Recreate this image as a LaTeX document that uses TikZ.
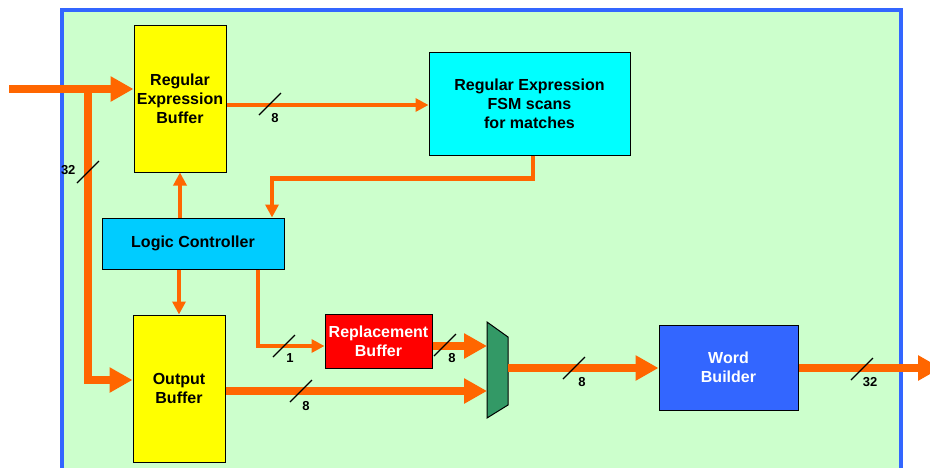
\documentclass[tikz,border=0pt]{standalone}
\usepackage{fontspec}
\setmainfont{Liberation Sans}
\usetikzlibrary{arrows.meta}

\begin{document}
\begin{tikzpicture}[x=1pt,y=-1pt,
  font=\bfseries\fontsize{16}{19}\selectfont,
  block/.style={draw=black,line width=1pt,inner sep=0pt,align=center},
  wide/.style={cWire,line width=8pt,line join=miter,-{Triangle[length=23pt,width=24pt]}},
  narrow/.style={cWire,line width=4.5pt,line join=miter,-{Triangle[length=13pt,width=13pt]}},
  busmark/.style={black,line width=1.2pt},
  buslabel/.style={font=\bfseries\fontsize{13}{15}\selectfont}]
  \definecolor{cWire}{RGB}{255,102,0}
  \definecolor{cBack}{RGB}{204,255,204}
  \definecolor{cFrame}{RGB}{51,102,255}
  \definecolor{cYell}{RGB}{255,255,0}
  \definecolor{cCyan}{RGB}{0,255,255}
  \definecolor{cCtrl}{RGB}{0,204,255}
  \definecolor{cRepl}{RGB}{255,0,0}
  \definecolor{cWord}{RGB}{51,102,255}
  \definecolor{cMux}{RGB}{51,153,102}

  \useasboundingbox (0,0) rectangle (930,467);
  \clip (0,0) rectangle (930,467);

  % frame
  \filldraw[fill=cBack,draw=cFrame,line width=4pt] (62,9.5) rectangle (901,490);

  % --- blocks ---
  \node[block,fill=cYell,minimum width=92pt,minimum height=147pt] (rebuf) at (180,98.5)
    {Regular\\Expression\\Buffer};
  \node[block,fill=cCyan,minimum width=201pt,minimum height=103pt] (fsm) at (529.5,103.5)
    {Regular Expression\\FSM scans\\for matches};
  \node[block,fill=cCtrl,minimum width=182pt,minimum height=51pt] (logic) at (193,243.5)
    {Logic Controller};
  \node[block,fill=cYell,minimum width=92pt,minimum height=147pt] (outbuf) at (179,388.5)
    {Output\\Buffer};
  \node[block,fill=cRepl,text=white,minimum width=107pt,minimum height=54pt] (repl) at (378.5,341)
    {Replacement\\Buffer};
  \node[block,fill=cWord,text=white,minimum width=139pt,minimum height=85pt] (word) at (728.5,367.5)
    {Word\\Builder};

  % --- mux ---
  \filldraw[fill=cMux,draw=black,line width=1pt]
    (487,322) -- (508,337) -- (508,405) -- (487,418) -- cycle;
  \coordinate (muxa) at (487,346);
  \coordinate (muxb) at (487,391);
  \coordinate (muxo) at (508,368);

  % --- input ---
  \coordinate (in) at (9,89);
  \coordinate (split) at (88,89);
  \coordinate (out) at (941,368);
  \draw[wide] (in) -- (in -| rebuf.west);
  \draw[wide] (split) |- ([yshift=8.5pt]outbuf.west);

  % --- control paths ---
  \draw[narrow] (rebuf.east |- 0,105) -- (fsm.west |- 0,105);
  \draw[narrow] ([xshift=3.5pt]fsm.south) -- ++(0,23) -| ([xshift=79pt]logic.north);
  \draw[narrow] (rebuf.south |- logic.north) -- (rebuf.south);
  \draw[narrow] (outbuf.north |- logic.south) -- (outbuf.north);
  \draw[narrow] ([xshift=65pt]logic.south) |- ([yshift=-5pt]repl.west);

  % --- data paths ---
  \draw[wide] (repl.east |- muxa) -- (muxa);
  \draw[wide] (outbuf.east |- muxb) -- (muxb);
  \draw[wide] (muxo) -- (muxo -| word.west);
  \draw[wide] (word.east |- muxo) -- (out);

  % bus widths
  \draw[busmark] (88,172) +(-11,11) -- +(11,-11);
  \node[buslabel,anchor=east] (w32a) at (79,170) {32};
  \draw[busmark] (270,104) +(-11,11) -- +(11,-11);
  \node[buslabel] (w8a) at (275,118) {8};
  \draw[busmark] (284,346) +(-11,11) -- +(11,-11);
  \node[buslabel] (w1) at (290,358) {1};
  \draw[busmark] (445,345) +(-11,11) -- +(11,-11);
  \node[buslabel] (w8b) at (452,358) {8};
  \draw[busmark] (301,391) +(-11,11) -- +(11,-11);
  \node[buslabel] (w8c) at (306,406) {8};
  \draw[busmark] (574,368) +(-11,11) -- +(11,-11);
  \node[buslabel] (w8d) at (582,382) {8};
  \draw[busmark] (862,369) +(-11,11) -- +(11,-11);
  \node[buslabel] (w32b) at (870,382) {32};
\end{tikzpicture}
\end{document}
